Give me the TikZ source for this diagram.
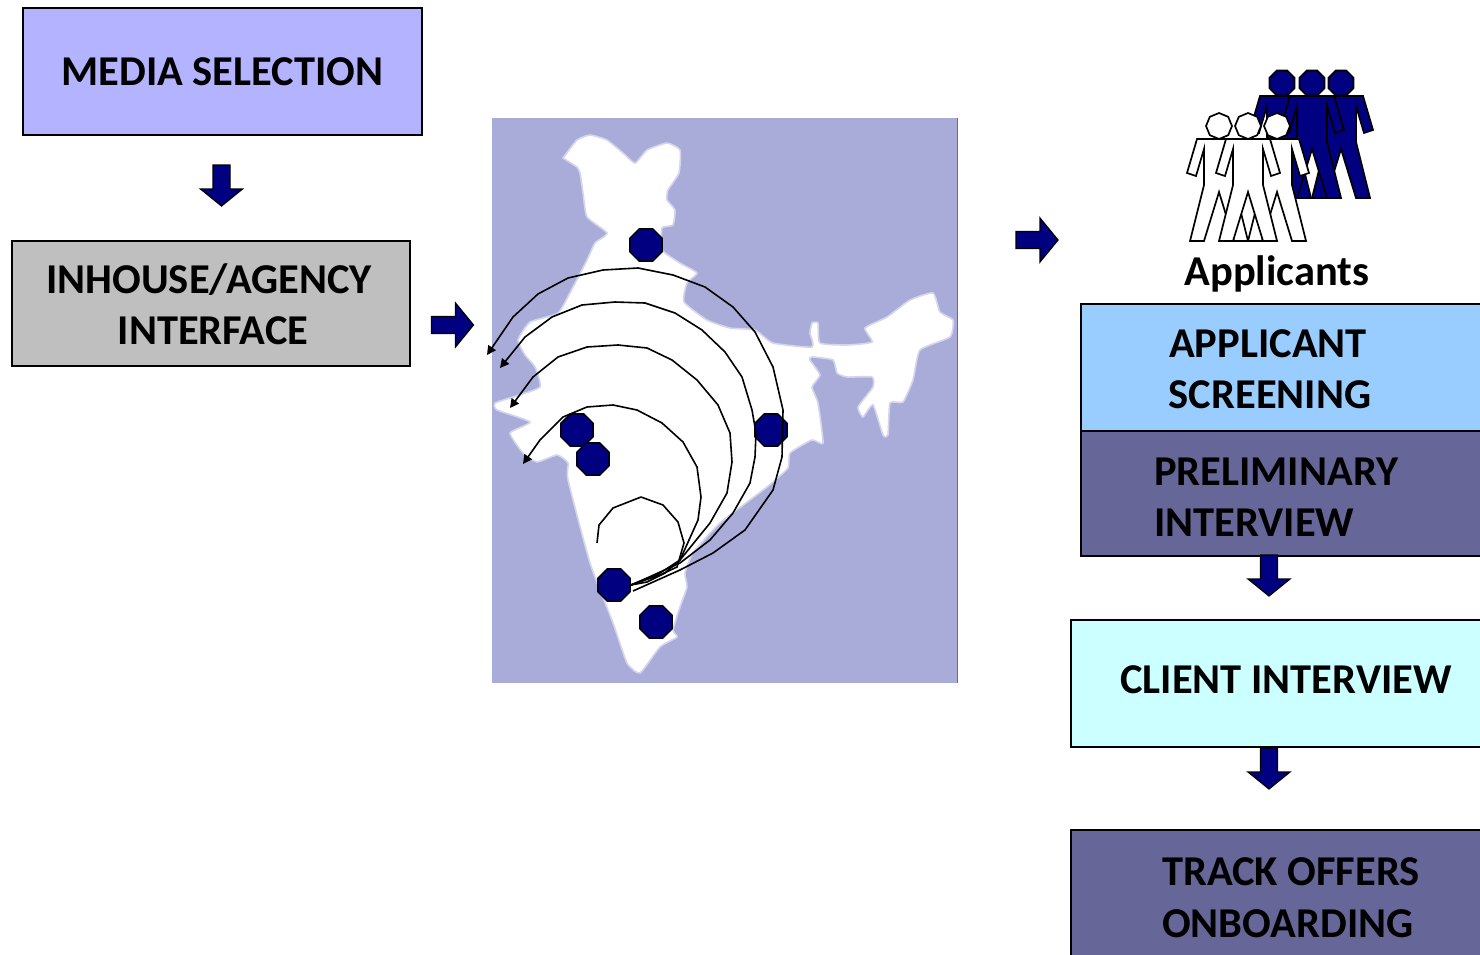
\documentclass[tikz,border=0pt]{standalone}
\usepackage{fontspec}
\setmainfont{Carlito}
\usetikzlibrary{shapes.geometric,arrows.meta}
\definecolor{navyb}{HTML}{000080}
\definecolor{mapbg}{HTML}{A9ACD9}
\definecolor{lilac}{HTML}{B3B3FF}
\definecolor{greyb}{HTML}{BFBFBF}
\definecolor{skyb}{HTML}{99CCFF}
\definecolor{slateb}{HTML}{666699}
\definecolor{cyanb}{HTML}{CCFFFF}
\tikzset{
  boxn/.style={draw=black,line width=1.5pt,anchor=north west,inner sep=0pt,outer sep=0pt},
  lbl/.style={font=\fontsize{42.5}{51}\selectfont\bfseries,text=black,inner sep=0pt,align=center},
  dot/.style={regular polygon,regular polygon sides=8,minimum size=35pt,inner sep=0pt,fill=navyb,draw=black,line width=1.5pt},
  arc/.style={draw=black,line width=1.6pt,line join=round},
  arct/.style={arc,-{Triangle[length=9pt,width=9pt]}},
  blk/.style={fill=navyb,draw=black,line width=1.2pt,line join=miter},
  body/.style={draw=black,line width=1.7pt,line join=miter},
  hd/.style={regular polygon,regular polygon sides=8,inner sep=0pt,draw=black,line width=1.7pt}
}
\newcommand{\blockdown}[2]{% centre x, top y
  \path[blk] (#1-8.5,#2) -- (#1+8.5,#2) -- (#1+8.5,#2+24) -- (#1+21,#2+24) -- (#1,#2+41) -- (#1-21,#2+24) -- (#1-8.5,#2+24) -- cycle;}
\newcommand{\blockright}[2]{% left x, centre y
  \path[blk] (#1,#2-8.5) -- (#1+24,#2-8.5) -- (#1+24,#2-22) -- (#1+42,#2) -- (#1+24,#2+22) -- (#1+24,#2+8.5) -- (#1,#2+8.5) -- cycle;}
\newcommand{\person}[6]{% name, head x, head y, fill, head size, rot
  \begin{scope}[shift={(#2,#3)}]
  \path[body,fill=#4] (-22,13) -- (22,13) -- (32,47) -- (23,50) -- (15,23) -- (15,59) -- (29,115) -- (15,115) -- (0,66) -- (-15,115) -- (-29,115) -- (-15,59) -- (-15,23) -- (-23,50) -- (-32,47) -- cycle;
  \node[hd,fill=#4,minimum size=#5pt,rotate=#6] (#1) at (0,0) {};
  \end{scope}}
\begin{document}
\begin{tikzpicture}[x=1pt,y=-1pt]
\useasboundingbox (0,0) rectangle (1480,955);
\clip (0,0) rectangle (1480,955);
% map
\fill[mapbg] (492,118) rectangle (958,683);
\draw[color=blue!45!mapbg,line width=.8pt] (957.5,118) -- (957.5,683);
\path[fill=white,draw=white!50!mapbg,line width=1.6pt] plot[smooth,tension=.3] coordinates {
(563,158) (577,140) (590,135) (607,140) (623,153) (635,163) (647,150) (667,143) (680,150) (679,173) (668,190) (667,200) (675,210) (673,225) (662,228) (662,250) (680,263) (697,273) (687,283) (684,302) (707,320) (730,328) (755,330) (773,343) (812,347) (810,333) (812,323) (818,323) (820,343) (847,345) (872,342) (865,328) (887,317) (910,300) (933,293) (940,312) (953,320) (950,337) (920,350) (913,380) (903,402) (890,403) (888,435) (883,435) (873,405) (863,417) (858,407) (873,387) (872,377) (847,377) (837,373) (833,360) (812,357) (810,360) (820,375) (812,387) (818,403) (823,443) (812,440) (790,453) (788,468) (767,487) (720,523) (693,553) (685,573) (687,587) (680,607) (673,630) (677,637) (660,647) (640,673) (627,663) (613,623) (590,563) (568,480) (568,463) (557,455) (537,462) (523,453) (510,433) (530,422) (497,410) (495,403) (513,397) (540,387) (535,367) (525,355) (518,340) (530,322) (558,313) (573,287) (587,260) (595,243) (607,233) (587,217) (583,193) (580,173) (577,167)} -- cycle;
% dots
\node[dot] (d1) at (646,245) {};
\node[dot] (d2) at (771,430) {};
\node[dot] (d3) at (577,430) {};
\node[dot] (d4) at (593,459) {};
\node[dot] (d5) at (614,585) {};
\node[dot] (d6) at (656,622) {};
% arcs
\coordinate (t1) at (487,355);
\coordinate (t2) at (500,368);
\coordinate (t3) at (510,408);
\coordinate (t4) at (523,464);
\coordinate (t5) at (597,543);
\coordinate (s1) at (633,591);
\draw[arct] (s1) -- (680,570) -- (713,553) -- (745,530) -- (773,490) -- (782,457) -- (783,410) -- (773,367) -- (755,332) -- (733,307) -- (705,287) -- (673,275) -- (638,268) -- (603,270) -- (568,278) -- (538,294) -- (513,317) -- (t1);
\draw[arct] (d5.east) -- (647,578) -- (680,563) -- (710,540) -- (733,513) -- (750,483) -- (755,457) -- (756,433) -- (752,410) -- (742,377) -- (725,352) -- (702,330) -- (675,313) -- (645,303) -- (615,302) -- (582,305) -- (552,317) -- (525,337) -- (t2);
\draw[arct] (d5.east) -- (657,575) -- (680,560) -- (710,523) -- (727,493) -- (732,462) -- (730,433) -- (718,405) -- (697,380) -- (672,360) -- (647,348) -- (618,345) -- (587,347) -- (558,357) -- (533,377) -- (t3);
\draw[arct] (d5.east) -- (647,582) -- (665,573) -- (680,560) -- (698,520) -- (701,497) -- (697,467) -- (683,442) -- (662,423) -- (637,410) -- (613,405) -- (587,407) -- (563,417) -- (540,440) -- (t4);
\draw[arc] (d5.east) -- (660,575) -- (677,567) -- (684,543) -- (678,522) -- (663,505) -- (641,497) -- (613,508) -- (599,525) -- (t5);
% boxes
\node[boxn,fill=lilac,minimum width=399pt,minimum height=127pt] (media) at (23,8) {};
\node[boxn,fill=greyb,minimum width=398pt,minimum height=125pt] (inhouse) at (12,241) {};
\node[boxn,fill=skyb,minimum width=420pt,minimum height=127pt] (screen) at (1081,304) {};
\node[boxn,fill=slateb,minimum width=420pt,minimum height=125pt] (prelim) at (1081,431) {};
\node[boxn,fill=cyanb,minimum width=430pt,minimum height=127pt] (client) at (1071,620) {};
\node[boxn,fill=slateb,minimum width=430pt,minimum height=140pt] (track) at (1071,830) {};
% block arrows
\blockdown{221.5}{165}
\blockright{431.5}{325}
\blockright{1016}{240}
\blockdown{1269}{555}
\blockdown{1269}{748}
% labels
\node[lbl] (tmedia) at (222.5,72) {MEDIA SELECTION};
\node[lbl] (tin1) at (209,280) {INHOUSE/AGENCY};
\node[lbl] (tin2) at (213,331) {INTERFACE};
\node[lbl] (tsc1) at (1268,344) {APPLICANT};
\node[lbl] (tsc2) at (1270,395) {SCREENING};
\node[lbl,anchor=west] (tpr1) at (1154,472) {PRELIMINARY};
\node[lbl,anchor=west] (tpr2) at (1154,523) {INTERVIEW};
\node[lbl] (tcl) at (1286,680) {CLIENT INTERVIEW};
\node[lbl,anchor=west] (ttr1) at (1162,872) {TRACK OFFERS};
\node[lbl,anchor=west] (ttr2) at (1162,924) {ONBOARDING};
\node[lbl] (tapp) at (1277,274) {Applicants};
% people
\person{n3}{1341}{83}{navyb}{27}{0}
\person{n1}{1282}{83}{navyb}{27}{0}
\person{n2}{1312}{83}{navyb}{27}{0}
\person{w1}{1219}{126}{white}{26}{22.5}
\person{w3}{1277}{126}{white}{26}{22.5}
\person{w2}{1248}{126}{white}{26}{22.5}
\end{tikzpicture}
\end{document}
